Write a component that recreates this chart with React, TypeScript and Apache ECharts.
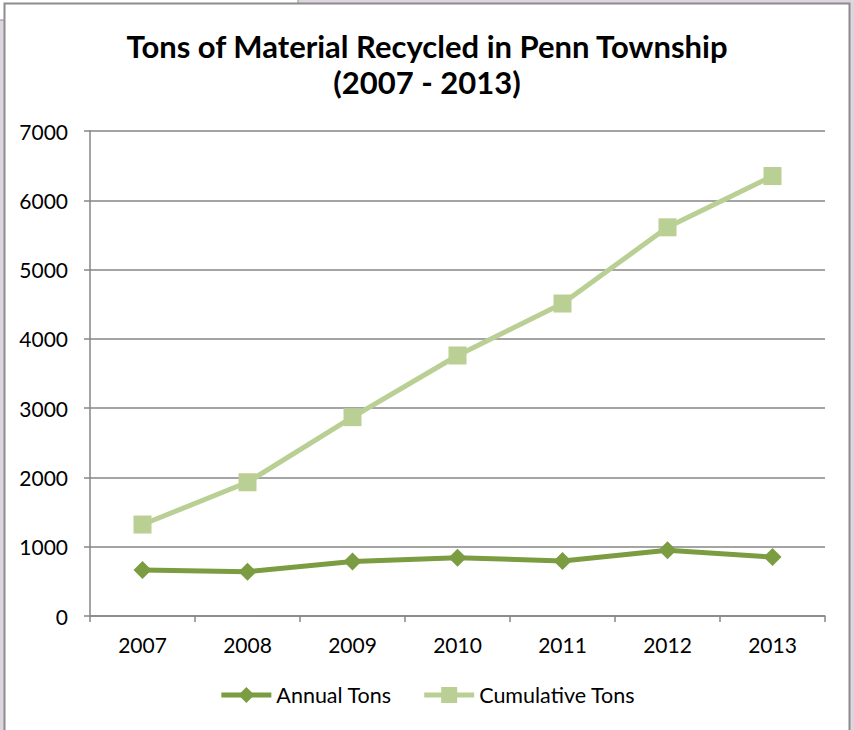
import React, { useEffect, useRef } from "react";
import * as echarts from "echarts";

const years = ["2007", "2008", "2009", "2010", "2011", "2012", "2013"];
const annualTons = [665, 640, 785, 840, 795, 950, 850];
const cumulativeTons = [1320, 1930, 2870, 3760, 4510, 5610, 6350];
const titleLines = ["Tons of Material Recycled in Penn Township", "(2007 - 2013)"];

export default function App() {
  const ref = useRef<HTMLDivElement>(null);
  useEffect(() => {
    if (!ref.current) return;
    const chart = echarts.init(ref.current, null, { renderer: "svg" });
    const font = "Lato, 'Open Sans', 'DejaVu Sans', sans-serif";
    const annualColor = "#7c9c42";
    const cumColor = "#b9cf94";
    chart.setOption({
      animation: false,
      backgroundColor: "#ddd5e0",
      textStyle: { fontFamily: font },
      graphic: [
        { type: "rect", z: -10, shape: { x: 0, y: 0, width: 298, height: 4 }, style: { fill: "#ffffff" } },
        { type: "rect", z: -10, shape: { x: 0, y: 0, width: 4, height: 20 }, style: { fill: "#ffffff" } },
        { type: "line", z: -9, shape: { x1: 0, y1: 20, x2: 4, y2: 20 }, style: { stroke: "#8c8c8c", lineWidth: 1 } },
        { type: "line", z: -9, shape: { x1: 298, y1: 0, x2: 298, y2: 4 }, style: { stroke: "#8c8c8c", lineWidth: 1 } },
        {
          type: "rect",
          z: -5,
          shape: { x: 4.5, y: 3.5, width: 845, height: 740 },
          style: { fill: "#ffffff", stroke: "#8c8c8c", lineWidth: 2 },
        },
      ],
      title: {
        text: titleLines.join("\n"),
        left: "center",
        top: 23,
        textStyle: { fontFamily: font, fontWeight: "bold", fontSize: 31, lineHeight: 36, color: "#000" },
      },
      grid: { left: 90, right: 29, top: 131, bottom: 114 },
      legend: {
        bottom: 19,
        left: "center",
        itemWidth: 50,
        itemHeight: 20,
        itemGap: 30,
        lineStyle: { width: 5 },
        textStyle: { fontFamily: font, fontSize: 21.5, color: "#000" },
        data: ["Annual Tons", "Cumulative Tons"],
      },
      xAxis: {
        type: "category",
        data: years,
        boundaryGap: true,
        axisLine: { lineStyle: { color: "#868686", width: 1.5 } },
        axisTick: { show: true, length: 6, lineStyle: { color: "#868686", width: 1.5 } },
        axisLabel: { fontSize: 21, color: "#000", margin: 18, fontFamily: font },
      },
      yAxis: {
        type: "value",
        min: 0,
        max: 7000,
        interval: 1000,
        axisLine: { show: true, lineStyle: { color: "#868686", width: 1.5 } },
        axisTick: { show: true, length: 6, lineStyle: { color: "#868686", width: 1.5 } },
        axisLabel: {
          fontSize: 21,
          color: "#000",
          margin: 22,
          fontFamily: font,
          formatter: (v: number) => String(v),
        },
        splitLine: { lineStyle: { color: "#868686", width: 1.5 } },
      },
      series: [
        {
          name: "Annual Tons",
          type: "line",
          data: annualTons,
          symbol: "diamond",
          symbolSize: 18,
          lineStyle: { color: annualColor, width: 5 },
          itemStyle: { color: annualColor },
          z: 3,
        },
        {
          name: "Cumulative Tons",
          type: "line",
          data: cumulativeTons,
          symbol: "rect",
          symbolSize: 18,
          lineStyle: { color: cumColor, width: 5 },
          itemStyle: { color: cumColor },
          z: 2,
        },
      ],
    });
    return () => chart.dispose();
  }, []);
  return <div ref={ref} style={{ position: "absolute", left: 0, top: 0, width: 854, height: 730 }} />;
}
